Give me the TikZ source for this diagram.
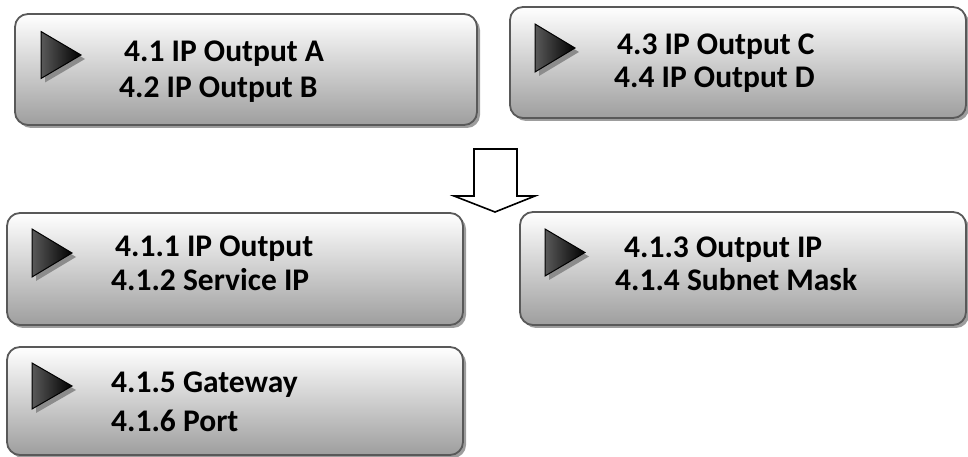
\documentclass[tikz,border=0pt]{standalone}
\usepackage{fontspec}
\setmainfont{Carlito}
\usetikzlibrary{shadows}
\begin{document}
\begin{tikzpicture}[x=1pt,y=1pt,
  menubox/.style={draw=black!65, line width=1.8pt, rounded corners=13pt,
    top color=white, bottom color=black!38,
    drop shadow={shadow xshift=3pt, shadow yshift=-3pt, fill=black!55, opacity=0.7}},
  lbl/.style={anchor=base west, inner sep=0pt, font=\fontsize{31.5}{38}\selectfont\bfseries},
  tri/.style={draw=black, line width=1pt, left color=black!65, right color=black, line join=miter},
  trishadow/.style={fill=black!45},
  bigarrow/.style={draw=black, line width=1.6pt, fill=white, line join=miter}]
\useasboundingbox (0,0) rectangle (968,457);
% boxes
\node[menubox, minimum width=462pt, minimum height=111pt] (b1) at (246,387.5) {};
\node[menubox, minimum width=456pt, minimum height=111pt] (b2) at (738,394.5) {};
\node[menubox, minimum width=456pt, minimum height=112pt] (b3) at (235,188) {};
\node[menubox, minimum width=446pt, minimum height=113pt] (b4) at (743,188.5) {};
\node[menubox, minimum width=456pt, minimum height=108pt] (b5) at (235,56) {};
% triangles
\newcommand{\menutri}[3]{% x left, y apex, half height
  \fill[trishadow] (#1+4,#2+#3-4) -- (#1+44,#2-4) -- (#1+4,#2-#3-4) -- cycle;
  \path[tri] (#1,#2+#3) -- (#1+40,#2) -- (#1,#2-#3) -- cycle;}
\menutri{41}{402}{23.5}
\menutri{535}{409}{24}
\menutri{32}{204}{24}
\menutri{545}{204.5}{23.5}
\menutri{32}{71}{23}
% texts
\node[lbl] (t1a) at (124,395) {4.1 IP Output A};
\node[lbl] (t1b) at (119,359) {4.2 IP Output B};
\node[lbl] (t2a) at (617,402) {4.3 IP Output C};
\node[lbl] (t2b) at (614,369) {4.4 IP Output D};
\node[lbl] (t3a) at (115,200) {4.1.1 IP Output};
\node[lbl] (t3b) at (111,166) {4.1.2 Service IP};
\node[lbl] (t4a) at (624,199) {4.1.3 Output IP};
\node[lbl] (t4b) at (615,166) {4.1.4 Subnet Mask};
\node[lbl] (t5a) at (111,64) {4.1.5 Gateway};
\node[lbl] (t5b) at (111,25) {4.1.6 Port};
% big arrow
\draw[bigarrow] (474,308) -- (517,308) -- (517,261) -- (535,261) -- (495,245) -- (454,261) -- (474,261) -- cycle;
\end{tikzpicture}
\end{document}
